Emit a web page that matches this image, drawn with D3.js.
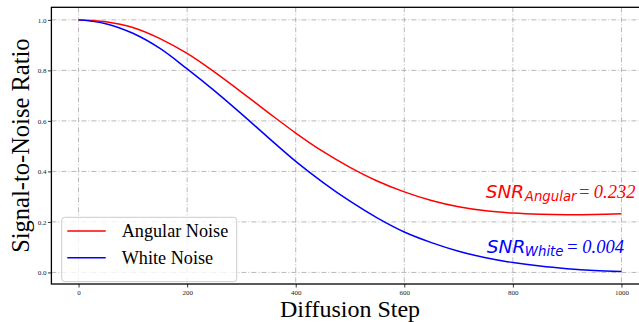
<!DOCTYPE html>
<html>
<head>
<meta charset="utf-8">
<script src="https://cdn.jsdelivr.net/npm/d3@7"></script>
<style>
  html, body { margin: 0; padding: 0; background: #fff; overflow: hidden; }
  svg { display: block; }
</style>
</head>
<body>
<svg id="chart" width="639" height="322"></svg>
<script>
// ---- data ----
const steps = [0, 50, 100, 150, 200, 250, 300, 350, 400, 450, 500, 550, 600, 650, 700, 750, 800, 850, 900, 950, 1000];
const angularSNR = [1.000, 0.993, 0.970, 0.926, 0.867, 0.794, 0.714, 0.632, 0.552, 0.479, 0.416, 0.362, 0.319, 0.285, 0.260, 0.244, 0.235, 0.230, 0.228, 0.229, 0.232];
const whiteSNR   = [1.000, 0.985, 0.947, 0.887, 0.806, 0.720, 0.628, 0.533, 0.440, 0.357, 0.282, 0.216, 0.160, 0.118, 0.084, 0.058, 0.039, 0.025, 0.015, 0.008, 0.004];
const seriesNames = ["Angular Noise", "White Noise"];
const seriesColors = ["#ff0000", "#0000ff"];
const xTicks = [0, 200, 400, 600, 800, 1000];
const yTicks = [0.0, 0.2, 0.4, 0.6, 0.8, 1.0];
const annotations = [
  { base: "SNR", sub: "Angular", eq: "=", num: "0.232", color: "#ff0000" },
  { base: "SNR", sub: "White", eq: "=", num: "0.004", color: "#0000ff" }
];

const svg = d3.select("#chart");
const L = 51.4, R = 648.6, T = 7.3, B = 284;
const x = d3.scaleLinear().domain([-50, 1050]).range([L, R]);
const y = d3.scaleLinear().domain([-0.0458, 1.0498]).range([B, T]);
const serif = "'Liberation Serif', 'Times New Roman', Times, serif";
const sans = "'DejaVu Sans', sans-serif";

// grid
const grid = svg.append("g");
grid.selectAll("line.gx").data(xTicks).enter().append("line")
  .attr("x1", d => x(d)).attr("x2", d => x(d)).attr("y1", T).attr("y2", B)
  .attr("stroke", "#b0b0b0").attr("stroke-width", 0.9).attr("stroke-dasharray", "5,2,1,2");
grid.selectAll("line.gy").data(yTicks).enter().append("line")
  .attr("x1", L).attr("x2", R).attr("y1", d => y(d)).attr("y2", d => y(d))
  .attr("stroke", "#b0b0b0").attr("stroke-width", 0.9).attr("stroke-dasharray", "5,2,1,2");

// curves
const line = d3.line().x((d, i) => x(steps[i])).y(d => y(d)).curve(d3.curveCatmullRom.alpha(0.5));
[angularSNR, whiteSNR].forEach((s, k) => {
  svg.append("path").datum(s).attr("d", line)
    .attr("fill", "none").attr("stroke", seriesColors[k]).attr("stroke-width", 1.5);
});

// axes
const xAxis = d3.axisBottom(x).tickValues(xTicks).tickSize(3.5).tickPadding(2.3).tickFormat(d3.format("d"));
const yAxis = d3.axisLeft(y).tickValues(yTicks).tickSize(3.5).tickPadding(1.5).tickFormat(d3.format(".1f"));
const gx = svg.append("g").attr("transform", `translate(0,${B})`).call(xAxis);
const gy = svg.append("g").attr("transform", `translate(${L},0)`).call(yAxis);
[gx, gy].forEach(g => {
  g.select(".domain").remove();
  g.selectAll(".tick line").attr("stroke", "#000").attr("stroke-width", 0.8);
  g.selectAll(".tick text").attr("font-family", serif).attr("font-size", 7).attr("fill", "#222");
});

// spines
svg.append("rect").attr("x", L).attr("y", T).attr("width", R - L).attr("height", B - T)
  .attr("fill", "none").attr("stroke", "#000").attr("stroke-width", 1.3);

// axis titles
svg.append("text").attr("x", (L + R) / 2).attr("y", 317).attr("text-anchor", "middle")
  .attr("font-family", serif).attr("font-size", 24).attr("fill", "#000").text("Diffusion Step");
svg.append("text").attr("transform", `translate(29,${(T + B) / 2}) rotate(-90)`).attr("text-anchor", "middle")
  .attr("font-family", serif).attr("font-size", 24.5).attr("fill", "#000").text("Signal-to-Noise Ratio");

// annotations (positions anchored to the data coordinate system)
const annPos = [
  { xs: 750, ys: 0.296, subX: 822, eqX: 920, numX: 949 },
  { xs: 752, ys: 0.075, subX: 822, eqX: 898, numX: 928 }
];
annotations.forEach((a, i) => {
  const p = annPos[i];
  const by = y(p.ys);
  const g = svg.append("g").attr("fill", a.color);
  g.append("text").attr("x", x(p.xs)).attr("y", by).attr("font-family", sans).attr("font-style", "italic")
    .attr("font-size", 18.5).text(a.base);
  g.append("text").attr("x", x(p.subX)).attr("y", by + 3).attr("font-family", sans).attr("font-style", "italic")
    .attr("font-size", 13.3).text(a.sub);
  g.append("text").attr("x", x(p.eqX)).attr("y", by).attr("font-family", serif).attr("font-style", "italic")
    .attr("font-size", 18.5).text(a.eq);
  g.append("text").attr("x", x(p.numX)).attr("y", by).attr("font-family", serif).attr("font-style", "italic")
    .attr("font-size", 18.5).text(a.num);
});

// legend
const lg = svg.append("g");
lg.append("rect").attr("x", 61.7).attr("y", 217.3).attr("width", 175).attr("height", 64.4)
  .attr("rx", 3).attr("fill", "#fff").attr("fill-opacity", 0.8).attr("stroke", "#cccccc").attr("stroke-width", 1);
seriesNames.forEach((n, i) => {
  const yy = 231 + i * 26.7;
  lg.append("line").attr("x1", 67.3).attr("x2", 105.7).attr("y1", yy).attr("y2", yy)
    .attr("stroke", seriesColors[i]).attr("stroke-width", 1.5);
  lg.append("text").attr("x", 121.7).attr("y", yy + 6.3).attr("font-family", serif)
    .attr("font-size", 18.2).attr("fill", "#000").text(n);
});
</script>
</body>
</html>
